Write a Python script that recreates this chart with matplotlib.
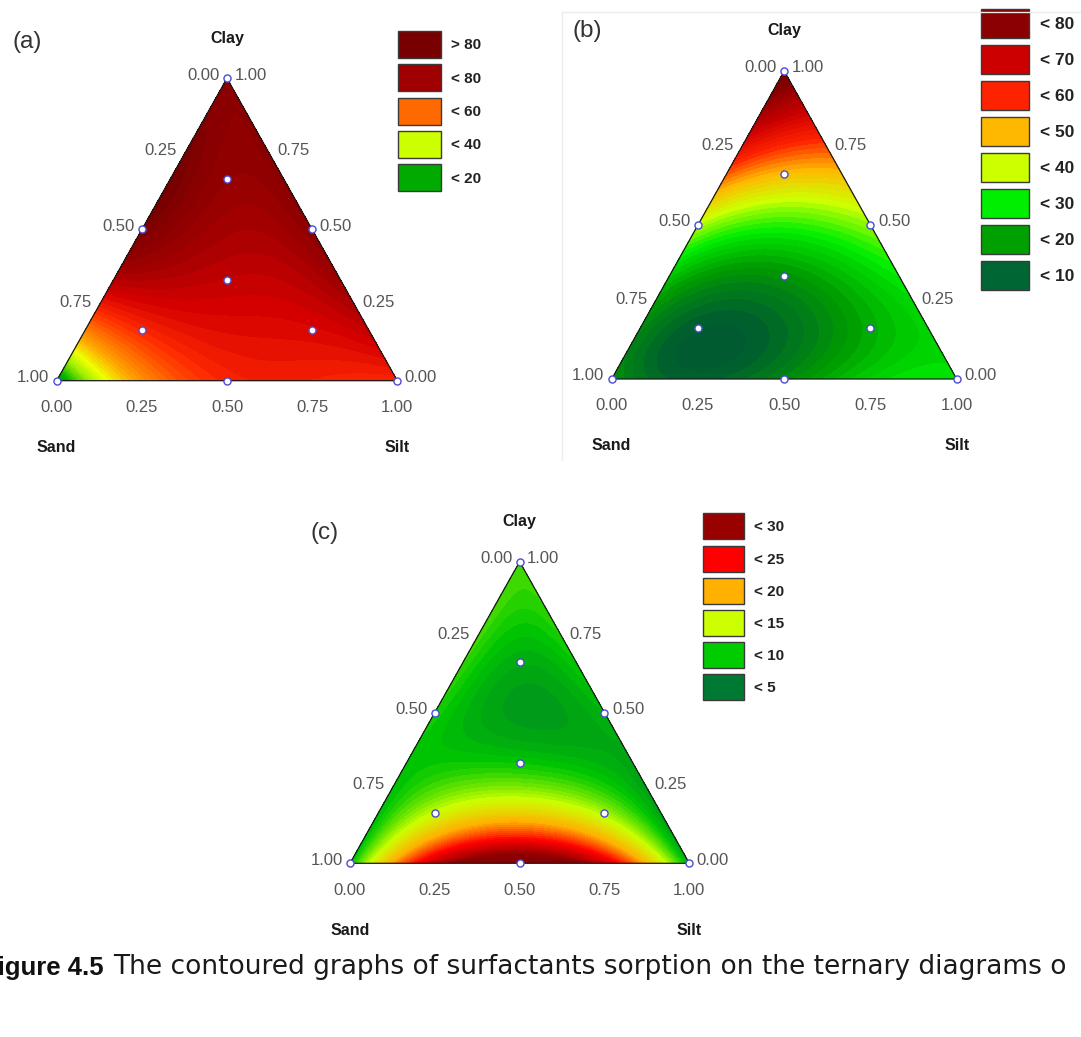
import numpy as np
import matplotlib
matplotlib.use("Agg")
import matplotlib.pyplot as plt
import matplotlib.tri as mtri
from matplotlib.colors import LinearSegmentedColormap
from matplotlib.patches import Rectangle

W, H = 1081, 1037

# mixture design points (fractions of sand, silt, clay)
sand = np.array([1, 0, 0, 1/2, 1/2, 0, 1/3, 2/3, 1/6, 1/6])
silt = np.array([0, 1, 0, 1/2, 0, 1/2, 1/3, 1/6, 2/3, 1/6])
clay = np.array([0, 0, 1, 0, 1/2, 1/2, 1/3, 1/6, 1/6, 2/3])

# sorption at the design points
sorption_a = [7, 64, 84, 64, 88, 84, 74, 64, 71, 83]
sorption_b = [14, 24, 82, 12, 34, 32, 14, 5, 17, 44]
sorption_c = [7, 6, 9, 31, 8, 6.5, 7.5, 12.5, 11.5, 6]

legend_a = ["> 80", "< 80", "< 60", "< 40", "< 20"]
legend_b = ["< 80", "< 70", "< 60", "< 50", "< 40", "< 30", "< 20", "< 10"]
legend_c = ["< 30", "< 25", "< 20", "< 15", "< 10", "< 5"]

tick_values = [0.0, 0.25, 0.5, 0.75, 1.0]

caption_bold = "Figure 4.5"
caption_rest = "The contoured graphs of surfactants sorption on the ternary diagrams o"

# colours
legend_colors_a = ["#780000", "#a00000", "#ff6a00", "#ccff00", "#00aa00"]
legend_colors_b = ["#8b0000", "#cc0000", "#ff2200", "#ffb800", "#ccff00", "#00ee00", "#00a000", "#006633"]
legend_colors_c = ["#990000", "#ff0000", "#ffb000", "#ccff00", "#00cc00", "#007a33"]

stops_a = [(5, "#008a00"), (15, "#00b400"), (28, "#a8f000"), (36, "#eeff00"), (46, "#ffa800"),
           (55, "#ff6a00"), (63, "#ff2a00"), (72, "#d40000"), (80, "#a00000"), (90, "#760000")]
stops_b = [(5, "#005c30"), (15, "#009c00"), (25, "#00ee00"), (35, "#ccff00"), (45, "#ffb800"),
           (55, "#ff2200"), (65, "#cc0000"), (78, "#800000")]
stops_c = [(2.5, "#006e30"), (7.5, "#00c800"), (12.5, "#ccff00"), (17.5, "#ffb000"),
           (22.5, "#ff0000"), (28, "#8a0000")]

TICK_FONT = dict(family="Liberation Sans", size=12, color="#555555")
TITLE_FONT = dict(family="Liberation Sans", size=11.5, weight="bold", color="#1a1a1a")


def scheffe_terms(s, t, c):
    # full cubic Scheffe mixture model
    return np.column_stack([s, t, c, s * t, s * c, t * c,
                            s * t * (s - t), s * c * (s - c), t * c * (t - c), s * t * c])


def fit_surface(values):
    coef, *_ = np.linalg.lstsq(scheffe_terms(sand, silt, clay), np.asarray(values, float), rcond=None)
    return coef


# triangular evaluation grid
n = 150
ii, jj = np.meshgrid(np.arange(n + 1), np.arange(n + 1))
keep = ii + jj <= n
g_silt = ii[keep] / n
g_clay = jj[keep] / n
g_sand = np.clip(1 - g_silt - g_clay, 0, 1)
grid_tri = mtri.Triangulation(g_silt + g_clay / 2, g_clay)

fig = plt.figure(figsize=(W / 100, H / 100), dpi=100)


def fx(px):
    return px / W


def fy(py):
    return 1 - py / H


def draw_panel(p):
    sx, by = p["sand"]
    ex, ty = p["silt_x"], p["top_y"]

    def to_px(x, y):
        return sx + x * (ex - sx), by - y * (by - ty)

    ax = fig.add_axes([fx(sx), fy(by), (ex - sx) / W, (by - ty) / H])
    ax.set_xlim(0, 1)
    ax.set_ylim(0, 1)
    ax.axis("off")

    z = scheffe_terms(g_sand, g_silt, g_clay) @ fit_surface(p["values"])
    stops = p["stops"]
    v0, v1 = stops[0][0], stops[-1][0]
    cmap = LinearSegmentedColormap.from_list("m", [((v - v0) / (v1 - v0), c) for v, c in stops])
    ax.tricontourf(grid_tri, z, levels=np.linspace(v0, v1, 46), cmap=cmap,
                   vmin=v0, vmax=v1, extend="both")
    ax.plot([0, 1, 0.5, 0], [0, 0, 1, 0], color="#1a1a1a", lw=0.9, clip_on=False)
    ax.scatter(silt + clay / 2, clay, s=26, facecolor="white", edgecolor="#4b4bd6",
               lw=1.0, zorder=5, clip_on=False)

    for t in tick_values:
        lab = f"{t:.2f}"
        px, py = to_px((1 - t) / 2, 1 - t)          # sand, left edge
        fig.text(fx(px - 7.5), fy(py - 3), lab, ha="right", va="center", **TICK_FONT)
        px, py = to_px(1 - t / 2, t)                # clay, right edge
        fig.text(fx(px + 7.5), fy(py - 3), lab, ha="left", va="center", **TICK_FONT)
        px, py = to_px(t, 0)                        # silt, bottom
        fig.text(fx(px), fy(py + 27), lab, ha="center", va="center", **TICK_FONT)

    px, py = to_px(0.5, 1)
    fig.text(fx(px), fy(py - 40), "Clay", ha="center", va="center", **TITLE_FONT)
    px, py = to_px(0, 0)
    fig.text(fx(px), fy(py + 67), "Sand", ha="center", va="center", **TITLE_FONT)
    px, py = to_px(1, 0)
    fig.text(fx(px), fy(py + 67), "Silt", ha="center", va="center", **TITLE_FONT)

    tx, tyy = p["tag_xy"]
    fig.text(fx(tx), fy(tyy), p["tag"], ha="left", va="center", family="Liberation Sans",
             size=17.5, color="#333333")

    lx, ltop, lw_, lh, pitch, ltx, lfs = p["leg"]
    for i, (lab, col) in enumerate(zip(p["labels"], p["colors"])):
        top = ltop + i * pitch
        fig.add_artist(Rectangle((fx(lx), fy(top + lh)), lw_ / W, lh / H, transform=fig.transFigure,
                                 facecolor=col, edgecolor="#3a3a3a", lw=1.0))
        fig.text(fx(ltx), fy(top + lh / 2 + 1), lab, ha="left", va="center", family="Liberation Sans",
                 size=lfs, weight="bold", color="#222222")


panels = [
    dict(tag="(a)", values=sorption_a, labels=legend_a, colors=legend_colors_a, stops=stops_a,
         sand=(56.7, 380.7), silt_x=397.3, top_y=78.3, tag_xy=(13, 42),
         leg=(397.7, 30.7, 43, 27, 33.4, 451, 11)),
    dict(tag="(b)", values=sorption_b, labels=legend_b, colors=legend_colors_b, stops=stops_b,
         sand=(611.7, 379.0), silt_x=956.7, top_y=71.0, tag_xy=(573, 31),
         leg=(980.7, 9, 48, 28.5, 36, 1040, 12.5)),
    dict(tag="(c)", values=sorption_c, labels=legend_c, colors=legend_colors_c, stops=stops_c,
         sand=(350.0, 863.3), silt_x=689.3, top_y=561.7, tag_xy=(311, 533),
         leg=(702.7, 513.3, 41.3, 26, 32.2, 754, 11)),
]

# faint frame of panel (b)
fig.add_artist(plt.Line2D([fx(562), fx(562), fx(1081)], [fy(460), fy(12), fy(12)],
                          transform=fig.transFigure, color="#ececec", lw=1))

for p in panels:
    draw_panel(p)

fig.text(fx(103.5), fy(974.5), caption_bold, ha="right", va="baseline", family="Liberation Sans",
         size=18.5, weight="bold", color="#111111")
fig.text(fx(113), fy(974.5), caption_rest, ha="left", va="baseline", family="DejaVu Sans",
         size=19, color="#1a1a1a")

fig.savefig("out.png", dpi=100, facecolor="white")
